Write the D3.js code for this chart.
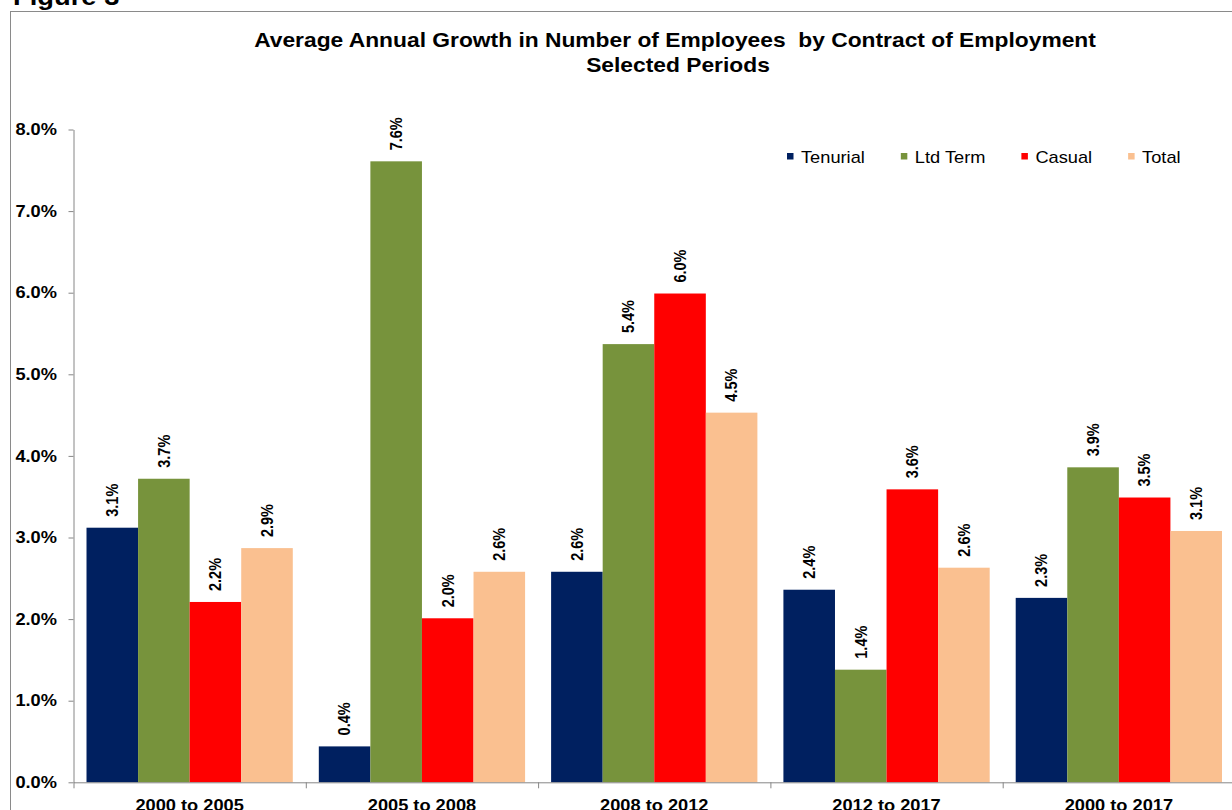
<!DOCTYPE html>
<html>
<head>
<meta charset="utf-8">
<script src="https://cdn.jsdelivr.net/npm/d3@7"></script>
<style>
  body { margin: 0; background: #fff; }
  svg { display: block; }
  text { font-family: "Liberation Sans", Arial, sans-serif; fill: #000; }
</style>
</head>
<body>
<svg id="chart" width="1232" height="810"></svg>
<script>
// Average annual growth (%) in number of employees, by contract type
const periods = ["2000 to 2005", "2005 to 2008", "2008 to 2012", "2012 to 2017", "2000 to 2017"];
const seriesNames = ["Tenurial", "Ltd Term", "Casual", "Total"];
const tenurial = [3.12, 0.44, 2.58, 2.36, 2.26];
const ltdTerm  = [3.72, 7.61, 5.37, 1.38, 3.86];
const casual   = [2.21, 2.01, 5.99, 3.59, 3.49];
const total    = [2.87, 2.58, 4.53, 2.63, 3.08];
const yTicks   = [0, 1, 2, 3, 4, 5, 6, 7, 8];
const seriesColors = ["#002060", "#77933C", "#FF0000", "#FAC090"];

const seriesValues = [tenurial, ltdTerm, casual, total];
const rows = periods.map((p, i) => ({
  period: p,
  values: seriesNames.map((s, j) => ({ series: s, value: seriesValues[j][i] }))
}));

const SX = 1.14;               // horizontal text stretch used throughout the figure
const axisColor = "#868686";
const svg = d3.select("#chart");

// frame
svg.append("rect")
  .attr("x", 10.5).attr("y", 11.5)
  .attr("width", 1300).attr("height", 900)
  .attr("fill", "none").attr("stroke", "#8a8a8a").attr("stroke-width", 1);

svg.append("text")
  .attr("transform", `translate(13,5) scale(${SX},1)`)
  .attr("font-size", 24).attr("font-weight", "bold")
  .text("Figure 3");

// scales
const left = 73.5, step = 232.3;
const x0 = d3.scaleBand()
  .domain(periods)
  .range([left, left + step * periods.length])
  .paddingInner(0.112)
  .paddingOuter(0.056);
const x1 = d3.scaleBand()
  .domain(seriesNames)
  .range([0, x0.bandwidth()]);
const edge = d3.scaleLinear().domain([0, periods.length]).range(x0.range());
const y = d3.scaleLinear().domain([0, 8]).range([782.3, 129.5]);
const color = d3.scaleOrdinal().domain(seriesNames).range(seriesColors);

// title
const title = svg.append("g").attr("font-weight", "bold").attr("font-size", 20).attr("text-anchor", "middle");
title.append("text").attr("transform", `translate(675,47) scale(${SX},1)`)
  .attr("xml:space", "preserve")
  .text("Average Annual Growth in Number of Employees  by Contract of Employment");
title.append("text").attr("transform", `translate(678,72) scale(${SX},1)`)
  .text("Selected Periods");

// y axis
const yAxis = svg.append("g")
  .attr("transform", `translate(${left},0)`)
  .call(d3.axisLeft(y).tickValues(yTicks).tickSize(5).tickSizeOuter(0).tickPadding(9.5)
    .tickFormat(d => d3.format(".1f")(d) + "%"));
yAxis.select(".domain").attr("stroke", axisColor);
yAxis.selectAll(".tick line").attr("stroke", axisColor);
yAxis.selectAll(".tick text")
  .attr("font-family", null).attr("font-size", 16).attr("font-weight", "bold")
  .attr("fill", "#000")
  .attr("transform", `scale(${SX},1)`);

// bars
const groups = svg.append("g").selectAll("g")
  .data(rows).join("g")
  .attr("transform", d => `translate(${x0(d.period)},0)`);

groups.selectAll("rect")
  .data(d => d.values).join("rect")
  .attr("x", d => x1(d.series))
  .attr("width", x1.bandwidth())
  .attr("y", d => y(d.value))
  .attr("height", d => y(0) - y(d.value))
  .attr("fill", d => color(d.series));

groups.selectAll("text")
  .data(d => d.values).join("text")
  .attr("transform", d => `translate(${x1(d.series) + x1.bandwidth() / 2},${y(d.value) - 11}) scale(${SX},1) rotate(-90)`)
  .attr("dy", "0.35em")
  .attr("font-size", 14.5).attr("font-weight", "bold")
  .text(d => d3.format(".1f")(d.value) + "%");

// x axis: boundary ticks and category labels
const xTicks = svg.append("g")
  .attr("transform", `translate(0,${y(0)})`)
  .call(d3.axisBottom(edge).tickValues(d3.range(periods.length + 1)).tickSize(6).tickSizeOuter(0).tickFormat(""));
xTicks.select(".domain").attr("stroke", axisColor);
xTicks.selectAll(".tick line").attr("stroke", axisColor);

const xLabels = svg.append("g")
  .attr("transform", `translate(0,${y(0)})`)
  .call(d3.axisBottom(x0).tickSize(0).tickPadding(17));
xLabels.select(".domain").remove();
xLabels.selectAll(".tick text")
  .attr("font-family", null).attr("font-size", 16).attr("font-weight", "bold")
  .attr("fill", "#000")
  .attr("transform", `scale(${SX},1)`);

// legend
const legend = svg.append("g").attr("font-size", 16);
let lx = 787;
seriesNames.forEach(name => {
  const item = legend.append("g").attr("transform", `translate(${lx},0)`);
  item.append("rect").attr("x", 0).attr("y", 153).attr("width", 6.5).attr("height", 6.5).attr("fill", color(name));
  const t = item.append("text")
    .attr("transform", `translate(14,163) scale(${SX},1)`)
    .text(name);
  lx += 14 + t.node().getComputedTextLength() * SX + 36;
});
</script>
</body>
</html>
